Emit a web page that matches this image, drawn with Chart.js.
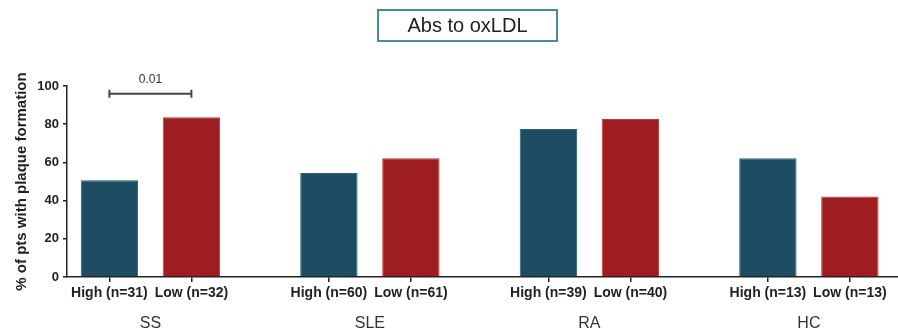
<!DOCTYPE html>
<html>
<head>
<meta charset="utf-8">
<script src="https://cdn.jsdelivr.net/npm/chart.js@4/dist/chart.umd.min.js"></script>
<style>
  body { margin: 0; background: #fff; }
  #wrap { position: relative; width: 898px; height: 336px; }
  #title {
    position: absolute; left: 377px; top: 9px; width: 181px; height: 33px;
    box-sizing: border-box; border: 2px solid #4a8a9c;
    font: 20px 'Liberation Sans', Arial, sans-serif; color: #222;
    text-align: center; line-height: 29px;
  }
</style>
</head>
<body>
<div id="wrap">
  <canvas id="chart"></canvas>
  <div id="title">Abs to oxLDL</div>
</div>
<script>
const groups = ["SS", "SLE", "RA", "HC"];
const highN = [31, 60, 39, 13];
const lowN = [32, 61, 40, 13];
const highVals = [50.7, 54.4, 77.5, 62.2];
const lowVals = [83.6, 62.2, 82.7, 42.1];
const yTicks = [0, 20, 40, 60, 80, 100];

// significance brackets (group, label, height in %)
const sigGroups = [0];
const sigLabels = ["0.01"];
const sigLevels = [96];

const FONT = "'Liberation Sans', Arial, sans-serif";
const catPct = 0.747;

const barLabels = [];
groups.forEach((g, i) => {
  barLabels.push(`High (n=${highN[i]})`);
  barLabels.push(`Low (n=${lowN[i]})`);
});

const sigPlugin = {
  id: "sig",
  afterDatasetsDraw(chart) {
    const ctx = chart.ctx;
    const y = chart.scales.y;
    sigGroups.forEach((g, k) => {
      const x1 = chart.getDatasetMeta(0).data[g].x;
      const x2 = chart.getDatasetMeta(1).data[g].x;
      const py = y.getPixelForValue(sigLevels[k]);
      ctx.save();
      ctx.strokeStyle = "#444";
      ctx.lineWidth = 2;
      ctx.beginPath();
      ctx.moveTo(x1, py); ctx.lineTo(x2, py);
      ctx.moveTo(x1, py - 4); ctx.lineTo(x1, py + 4);
      ctx.moveTo(x2, py - 4); ctx.lineTo(x2, py + 4);
      ctx.stroke();
      ctx.fillStyle = "#333";
      ctx.font = "12px " + FONT;
      ctx.textAlign = "center";
      ctx.textBaseline = "middle";
      ctx.fillText(sigLabels[k], (x1 + x2) / 2, py - 14);
      ctx.restore();
    });
  }
};

const xMin = -0.38, xMax = 3.406;

new Chart(document.getElementById("chart"), {
  type: "bar",
  data: {
    datasets: [
      {
        label: "High",
        data: highVals.map((v, i) => ({ x: i, y: v })),
        backgroundColor: "#1c4d62",
        borderColor: "#2a6175",
        borderWidth: 1
      },
      {
        label: "Low",
        data: lowVals.map((v, i) => ({ x: i, y: v })),
        backgroundColor: "#9d1d21",
        borderColor: "#b8383c",
        borderWidth: 1
      }
    ]
  },
  options: {
    responsive: true,
    maintainAspectRatio: false,
    animation: false,
    categoryPercentage: catPct,
    barPercentage: 0.70,
    layout: { padding: { top: 86, left: 0, right: 0, bottom: 0 } },
    plugins: { legend: { display: false }, tooltip: { enabled: false } },
    scales: {
      x: {
        type: "linear",
        position: "bottom",
        weight: 1,
        offset: false,
        min: xMin,
        max: xMax,
        afterBuildTicks: s => { s.ticks = groups.map((g, i) => ({ value: i })); },
        afterFit: s => { s.height = 36; },
        grid: { display: false, drawTicks: false, offset: false },
        border: { display: false },
        ticks: {
          autoSkip: false,
          maxRotation: 0,
          padding: 14,
          color: "#333",
          font: { family: FONT, size: 16 },
          callback: v => groups[Math.round(v)]
        }
      },
      xl: {
        type: "linear",
        position: "bottom",
        weight: 0,
        offset: false,
        min: xMin,
        max: xMax,
        afterBuildTicks: s => {
          const t = [];
          groups.forEach((g, i) => {
            t.push({ value: i - catPct / 4 });
            t.push({ value: i + catPct / 4 });
          });
          s.ticks = t;
        },
        afterFit: s => { s.height = 23; },
        grid: { drawOnChartArea: false, drawTicks: true, offset: false, tickLength: 5, color: "#222", lineWidth: 1.5 },
        border: { color: "#222", width: 1.5 },
        ticks: {
          autoSkip: false,
          maxRotation: 0,
          padding: 3,
          color: "#222",
          font: { family: FONT, size: 14, weight: "bold" },
          callback: (v, i) => barLabels[i]
        }
      },
      y: {
        min: 0,
        max: 100,
        afterBuildTicks: s => { s.ticks = yTicks.map(v => ({ value: v })); },
        afterFit: s => { s.width = 67; },
        grid: { drawOnChartArea: false, drawTicks: true, tickLength: 4, color: "#222", lineWidth: 1.5 },
        border: { color: "#222", width: 1.5 },
        ticks: {
          padding: 4,
          color: "#222",
          font: { family: FONT, size: 13, weight: "bold" }
        },
        title: {
          display: true,
          text: "% of pts with plaque formation",
          color: "#222",
          padding: { top: 13, bottom: 0 },
          font: { family: FONT, size: 15, weight: "bold" }
        }
      }
    }
  },
  plugins: [sigPlugin]
});
</script>
</body>
</html>
